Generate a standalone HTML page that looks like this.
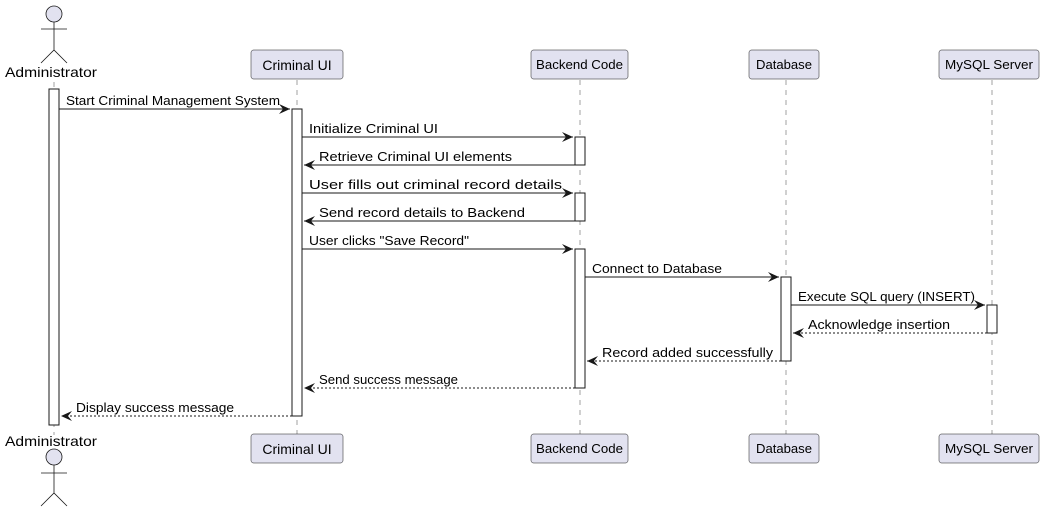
<!DOCTYPE html>
<html><head><meta charset="utf-8"><style>
html,body{margin:0;padding:0;background:#fff;width:1047px;height:514px;overflow:hidden}
text{font-family:"Liberation Sans",sans-serif;fill:#000}
</style></head><body>
<svg width="1047" height="514" xmlns="http://www.w3.org/2000/svg">
<defs>
<marker id="a" markerWidth="12" markerHeight="10" refX="11" refY="5" orient="auto" markerUnits="userSpaceOnUse">
<path d="M0,0 L11,5 L0,10 L4,5 Z" fill="#181818"/></marker>
</defs>
<g stroke="#a0a0a0" stroke-dasharray="5,5" stroke-width="1">
<line x1="54" y1="82" x2="54" y2="435"/>
<line x1="297" y1="80" x2="297" y2="434"/>
<line x1="580" y1="80" x2="580" y2="434"/>
<line x1="786" y1="80" x2="786" y2="434"/>
<line x1="992" y1="80" x2="992" y2="434"/>
</g>
<g stroke="#181818" stroke-width="1" fill="#e2e2f0">
<circle cx="54" cy="14" r="8" stroke-width="0.8"/>
<path d="M54 22 V50 M41 29 H67 M41 63 L54 50 L67 63" fill="none" stroke-width="0.8"/>
<circle cx="54" cy="457" r="8" stroke-width="0.8"/>
<path d="M54 465 V493 M41 473 H67 M41 506 L54 493 L67 506" fill="none" stroke-width="0.8"/>
</g>
<text x="5" y="77" font-size="14" textLength="92" lengthAdjust="spacingAndGlyphs">Administrator</text>
<text x="5" y="446" font-size="14" textLength="92" lengthAdjust="spacingAndGlyphs">Administrator</text>
<g fill="#e2e2f0" stroke="#181818" stroke-width="0.5">
<rect x="251" y="50" width="92" height="29" rx="2.5"/>
<rect x="531" y="50" width="97" height="29" rx="2.5"/>
<rect x="749" y="50" width="70" height="29" rx="2.5"/>
<rect x="939" y="50" width="100" height="29" rx="2.5"/>
<rect x="251" y="434" width="92" height="29" rx="2.5"/>
<rect x="531" y="434" width="97" height="29" rx="2.5"/>
<rect x="749" y="434" width="70" height="29" rx="2.5"/>
<rect x="939" y="434" width="100" height="29" rx="2.5"/>
</g>
<g font-size="13">
<text x="297" y="70" text-anchor="middle" font-size="14">Criminal UI</text>
<text x="579.5" y="69" text-anchor="middle" textLength="87" lengthAdjust="spacingAndGlyphs">Backend Code</text>
<text x="784" y="69" text-anchor="middle" textLength="56" lengthAdjust="spacingAndGlyphs">Database</text>
<text x="989" y="69" text-anchor="middle" textLength="88" lengthAdjust="spacingAndGlyphs">MySQL Server</text>
<text x="297" y="454" text-anchor="middle" font-size="14">Criminal UI</text>
<text x="579.5" y="453" text-anchor="middle" textLength="87" lengthAdjust="spacingAndGlyphs">Backend Code</text>
<text x="784" y="453" text-anchor="middle" textLength="56" lengthAdjust="spacingAndGlyphs">Database</text>
<text x="989" y="453" text-anchor="middle" textLength="88" lengthAdjust="spacingAndGlyphs">MySQL Server</text>
</g>
<g fill="#fff" stroke="#181818" stroke-width="1">
<rect x="49" y="89" width="10" height="336"/>
<rect x="292" y="109" width="10" height="307"/>
<rect x="575" y="137" width="10" height="28"/>
<rect x="575" y="193" width="10" height="28"/>
<rect x="575" y="249" width="10" height="139"/>
<rect x="781" y="277" width="10" height="84"/>
<rect x="987" y="305" width="10" height="28"/>
</g>
<g stroke="#181818" stroke-width="1" fill="none" marker-end="url(#a)">
<line x1="59" y1="109" x2="290" y2="109"/>
<line x1="302" y1="137" x2="573" y2="137"/>
<line x1="575" y1="165" x2="304" y2="165"/>
<line x1="302" y1="193" x2="573" y2="193"/>
<line x1="575" y1="221" x2="304" y2="221"/>
<line x1="302" y1="249" x2="573" y2="249"/>
<line x1="585" y1="277" x2="779" y2="277"/>
<line x1="791" y1="305" x2="985" y2="305"/>
<line x1="987" y1="333" x2="793" y2="333" stroke-dasharray="2,2"/>
<line x1="781" y1="361" x2="587" y2="361" stroke-dasharray="2,2"/>
<line x1="575" y1="388" x2="304" y2="388" stroke-dasharray="2,2"/>
<line x1="292" y1="416" x2="61" y2="416" stroke-dasharray="2,2"/>
</g>
<g font-size="13" lengthAdjust="spacingAndGlyphs">
<text x="66" y="105" textLength="214" lengthAdjust="spacingAndGlyphs">Start Criminal Management System</text>
<text x="309" y="133" textLength="129" lengthAdjust="spacingAndGlyphs">Initialize Criminal UI</text>
<text x="319" y="161" textLength="193" lengthAdjust="spacingAndGlyphs">Retrieve Criminal UI elements</text>
<text x="309" y="189" textLength="253" lengthAdjust="spacingAndGlyphs">User fills out criminal record details</text>
<text x="319" y="217" textLength="206" lengthAdjust="spacingAndGlyphs">Send record details to Backend</text>
<text x="309" y="245" textLength="160" lengthAdjust="spacingAndGlyphs">User clicks "Save Record"</text>
<text x="592" y="273" textLength="130" lengthAdjust="spacingAndGlyphs">Connect to Database</text>
<text x="798" y="301" textLength="177" lengthAdjust="spacingAndGlyphs">Execute SQL query (INSERT)</text>
<text x="808" y="329" textLength="142" lengthAdjust="spacingAndGlyphs">Acknowledge insertion</text>
<text x="602" y="357" textLength="171" lengthAdjust="spacingAndGlyphs">Record added successfully</text>
<text x="319" y="384" textLength="139" lengthAdjust="spacingAndGlyphs">Send success message</text>
<text x="76" y="412" textLength="158" lengthAdjust="spacingAndGlyphs">Display success message</text>
</g>
</svg>
</body></html>
